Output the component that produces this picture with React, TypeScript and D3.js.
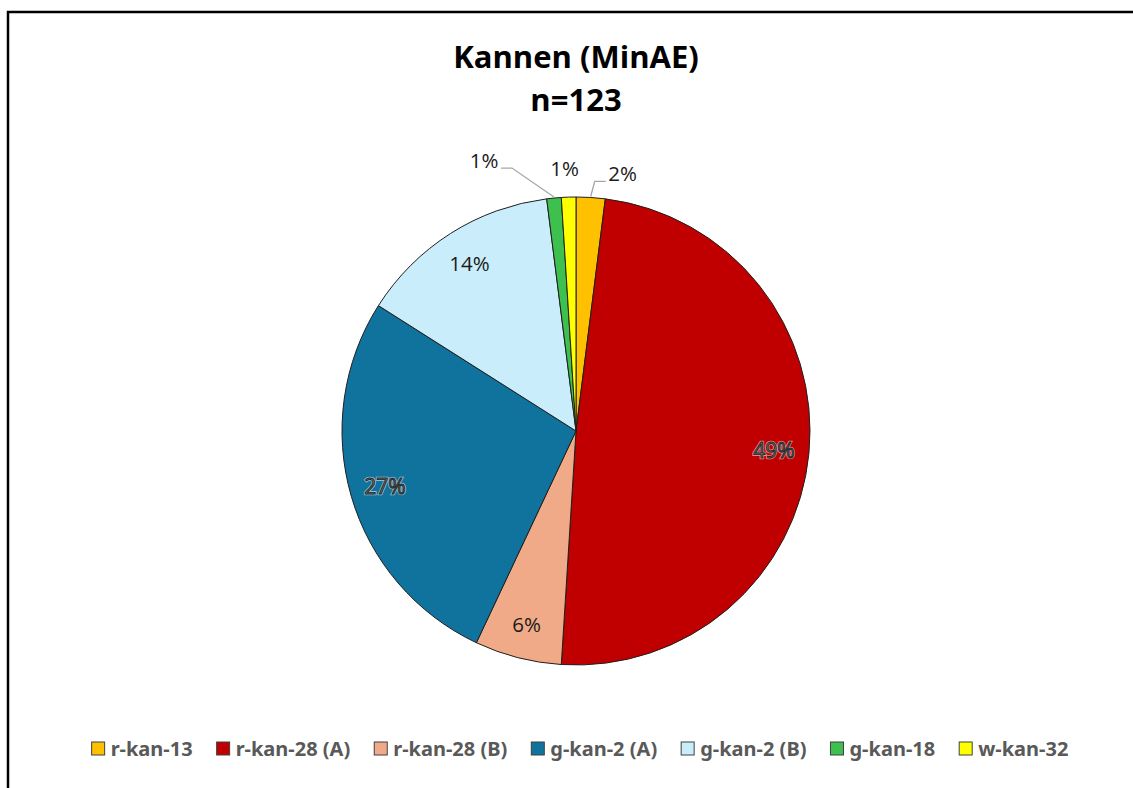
import { useMemo } from 'react'
import * as d3 from 'd3'

const WIDTH = 1133
const HEIGHT = 788

const CATEGORIES = ['r-kan-13', 'r-kan-28 (A)', 'r-kan-28 (B)', 'g-kan-2 (A)', 'g-kan-2 (B)', 'g-kan-18', 'w-kan-32']
const PERCENTS = [2, 49, 6, 27, 14, 1, 1]
const COLORS = ['#FFC000', '#C00000', '#F0AA88', '#10739E', '#CAEDFB', '#3EC04F', '#FFFF00']
const TITLE = ['Kannen (MinAE)', 'n=123']

// label placement: inside at 0.85R, small slices outside with an offset from the arc
const OUTSIDE = {
  'r-kan-13': { dx: 32, dy: -24, leader: true },
  'g-kan-18': { dx: -70, dy: -38, leader: true },
  'w-kan-32': { dx: -4, dy: -29, leader: false },
}
const OUTLINED = ['r-kan-28 (A)', 'g-kan-2 (A)']

const CX = 576
const CY = 431
const R = 234

const LEGEND_SIZE = 20
const LEGEND_FONT = `bold ${LEGEND_SIZE}px "Noto Sans"`

const measure = (text, font) => {
  const ctx = document.createElement('canvas').getContext('2d')
  ctx.font = font
  return ctx.measureText(text).width
}

const App = () => {
  const data = CATEGORIES.map((name, i) => ({ name, value: PERCENTS[i], color: COLORS[i] }))

  const arcs = useMemo(() => d3.pie().sort(null).value((d) => d.value)(data), [])
  const arcGen = d3.arc().innerRadius(0).outerRadius(R)

  const pointAt = (angle, r) => [Math.sin(angle) * r, -Math.cos(angle) * r]

  // legend layout
  const legendItems = useMemo(() => {
    const box = 13
    const gap = 6
    const spacing = 24
    const widths = CATEGORIES.map((c) => measure(c, LEGEND_FONT))
    const total = widths.reduce((s, w) => s + box + gap + w, 0) + spacing * (CATEGORIES.length - 1)
    let x = 580 - total / 2
    return CATEGORIES.map((c, i) => {
      const item = { name: c, x, color: COLORS[i] }
      x += box + gap + widths[i] + spacing
      return item
    })
  }, [])

  return (
    <svg width={WIDTH} height={HEIGHT} style={{ position: 'absolute', left: 0, top: 0, background: '#fff' }}>
      <rect x={0} y={0} width={WIDTH} height={HEIGHT} fill="#fff" />
      <rect x={8} y={12} width={WIDTH + 20} height={HEIGHT + 20} fill="none" stroke="#000" strokeWidth={2.5} />

      <g fontFamily='"Open Sans", sans-serif' fontWeight="bold" fontSize={31} fill="#000" textAnchor="middle">
        <text x={576} y={68}>{TITLE[0]}</text>
        <text x={576} y={111}>{TITLE[1]}</text>
      </g>

      <g transform={`translate(${CX},${CY})`}>
        {arcs.map((a) => (
          <path key={a.data.name} d={arcGen(a)} fill={a.data.color} stroke="#1f1f1f" strokeWidth={1} />
        ))}
        {arcs.map((a) => {
          const mid = (a.startAngle + a.endAngle) / 2
          const label = `${a.data.value}%`
          const out = OUTSIDE[a.data.name]
          if (out) {
            const [ax, ay] = pointAt(mid, R)
            const lx = ax + out.dx
            const ly = ay + out.dy
            let leader = null
            if (out.leader) {
              const right = out.dx > 0
              const endX = right ? lx - 17 : lx + 17
              const elbowX = right ? endX - 11 : endX + 11
              leader = (
                <polyline
                  points={`${ax},${ay - 1} ${elbowX},${ly + 8} ${endX},${ly + 8}`}
                  fill="none"
                  stroke="#a6a6a6"
                  strokeWidth={1.3}
                />
              )
            }
            return (
              <g key={a.data.name}>
                {leader}
                <text x={lx} y={ly} textAnchor="middle" dominantBaseline="central" fontFamily='"Open Sans", sans-serif' fontSize={20.5} fill="#1a1a1a">
                  {label}
                </text>
              </g>
            )
          }
          const [x, y] = pointAt(mid, R * 0.85)
          if (OUTLINED.includes(a.data.name)) {
            return (
              <g key={a.data.name} fontFamily='"Open Sans", sans-serif' fontSize={21} textAnchor="middle" dominantBaseline="central">
                <text x={x} y={y} fill="none" stroke="#ffffff" strokeOpacity={0.55} strokeWidth={2.6}>{label}</text>
                <text x={x} y={y} fill="#7a7a7a" stroke="#262626" strokeWidth={0.9}>{label}</text>
              </g>
            )
          }
          return (
            <text key={a.data.name} x={x} y={y} textAnchor="middle" dominantBaseline="central" fontFamily='"Open Sans", sans-serif' fontSize={20.5} fill="#1a1a1a">
              {label}
            </text>
          )
        })}
      </g>

      <g>
        {legendItems.map((it) => (
          <g key={it.name}>
            <rect x={it.x} y={742} width={13} height={13} fill={it.color} stroke="#404040" strokeWidth={1} />
            <text x={it.x + 19} y={756} fontFamily='"Noto Sans", sans-serif' fontWeight="bold" fontSize={LEGEND_SIZE} fill="#595959">
              {it.name}
            </text>
          </g>
        ))}
      </g>
    </svg>
  )
}

export default App
